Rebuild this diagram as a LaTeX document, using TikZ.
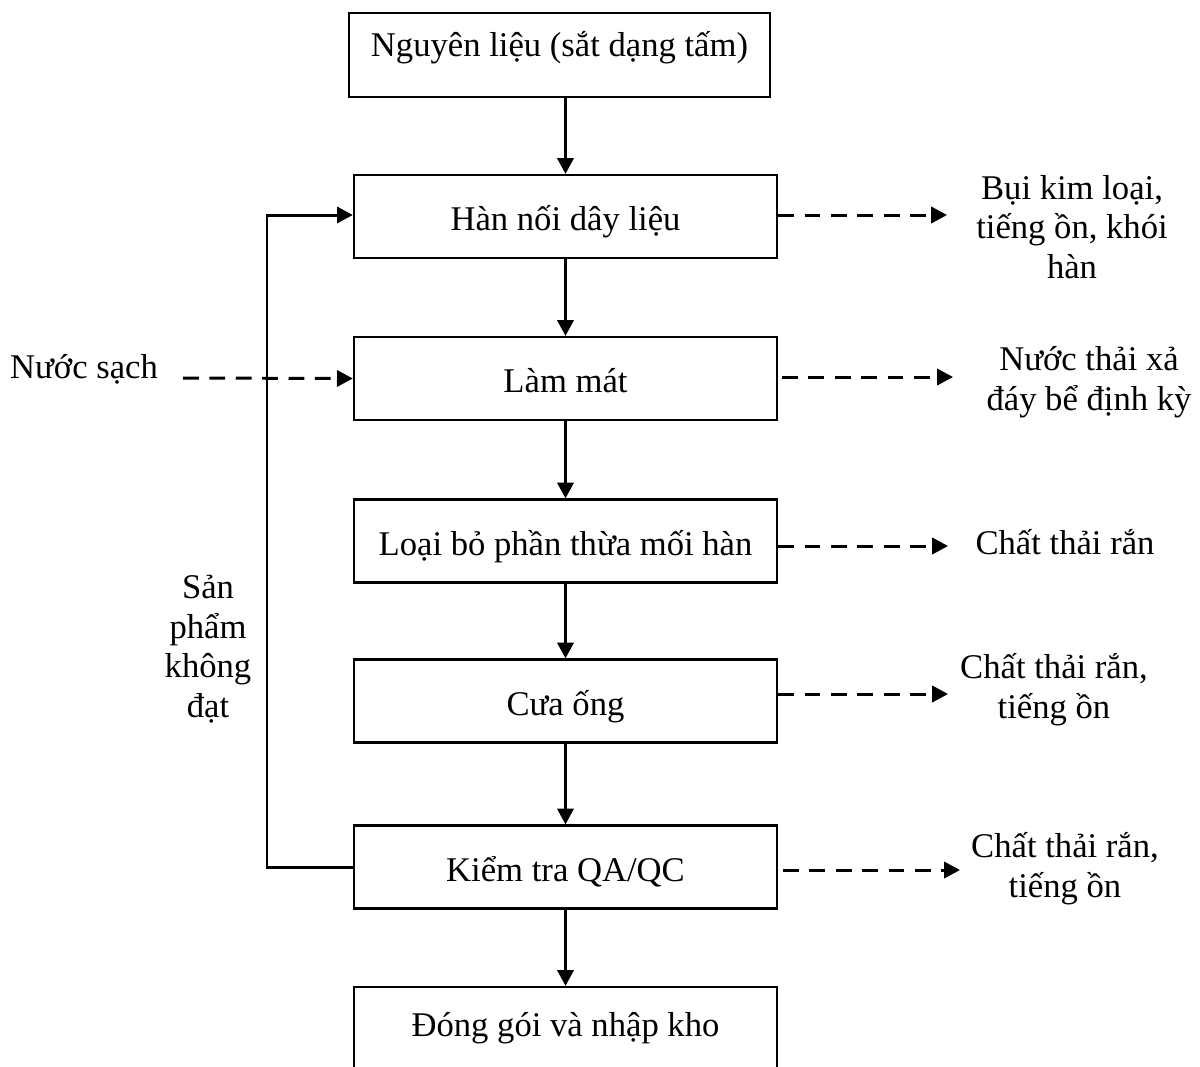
\documentclass[tikz,border=0pt]{standalone}
\usepackage{fontspec}
\setmainfont{Liberation Serif}
\usetikzlibrary{arrows.meta}
\begin{document}
\begin{tikzpicture}[x=0.01cm,y=-0.01cm,
  every node/.style={font=\fontsize{9.85}{11.2}\selectfont},
  procbox/.style={draw, line width=0.6pt, minimum width=4.23cm, minimum height=0.83cm,
    inner sep=0pt, text height=0.555cm, text depth=0.275cm},
  flow/.style={line width=0.85pt, -{Triangle[length=4.5pt,width=4.6pt]}},
  emit/.style={flow, dash pattern=on 4.5pt off 3pt},
  note/.style={align=center, inner sep=0pt, anchor=base}]
\useasboundingbox (0,0) rectangle (1200,1066);

% process steps
\node[procbox, minimum width=4.21cm, text height=0.43cm, text depth=0.41cm] (b1) at (559.5,55) {Nguyên liệu (sắt dạng tấm)};
\node[procbox] (b2) at (565.5,216.5) {Hàn nối dây liệu};
\node[procbox] (b3) at (565.5,378.5) {Làm mát};
\node[procbox] (b4) at (565.5,541) {Loại bỏ phần thừa mối hàn};
\node[procbox] (b5) at (565.5,701) {Cưa ống};
\node[procbox] (b6) at (565.5,867) {Kiểm tra QA/QC};
\node[procbox, text height=0.49cm, text depth=0.34cm] (b7) at (565.5,1028.5) {Đóng gói và nhập kho};

% outputs and inputs (anchored on the last line's baseline)
\node[note] (o2) at (1072,278) {Bụi kim loại,\\tiếng ồn, khói\\hàn};
\node[note] (o3) at (1089,410) {Nước thải xả\\đáy bể định kỳ};
\node[note] (o4) at (1065,554) {Chất thải rắn};
\node[note] (o5) at (1054,718) {Chất thải rắn,\\tiếng ồn};
\node[note] (o6) at (1065,897) {Chất thải rắn,\\tiếng ồn};
\node[note] (win) at (84,378) {Nước sạch};
\node[note] (rej) at (208,717) {Sản\\phẩm\\không\\đạt};

% arrow ends
\coordinate (t2) at (947,215);
\coordinate (t3) at (953,377);
\coordinate (t4) at (948,546);
\coordinate (t5) at (948,694);
\coordinate (t6) at (960,870);
\coordinate (ws) at (183,378);
\coordinate (lp) at (267,215);

% main flow
\draw[flow] (b2.north |- b1.south) -- (b2.north);
\foreach \a/\b in {b2/b3, b3/b4, b4/b5, b5/b6, b6/b7}
  \draw[flow] (\a.south) -- (\b.north);

% rejected products back to welding
\draw[flow] (b6.west) -| (lp) -- (b2.west |- lp);

% clean water in
\draw[emit] (ws) -- (b3.west);

% emissions
\draw[emit] (b2.east |- t2) -- (t2);
\draw[emit, shorten <=1.1pt] (b3.east |- t3) -- (t3);
\draw[emit] (b4.east |- t4) -- (t4);
\draw[emit] (b5.east |- t5) -- (t5);
\draw[emit, shorten <=1.4pt] (b6.east |- t6) -- (t6);
\end{tikzpicture}
\end{document}
